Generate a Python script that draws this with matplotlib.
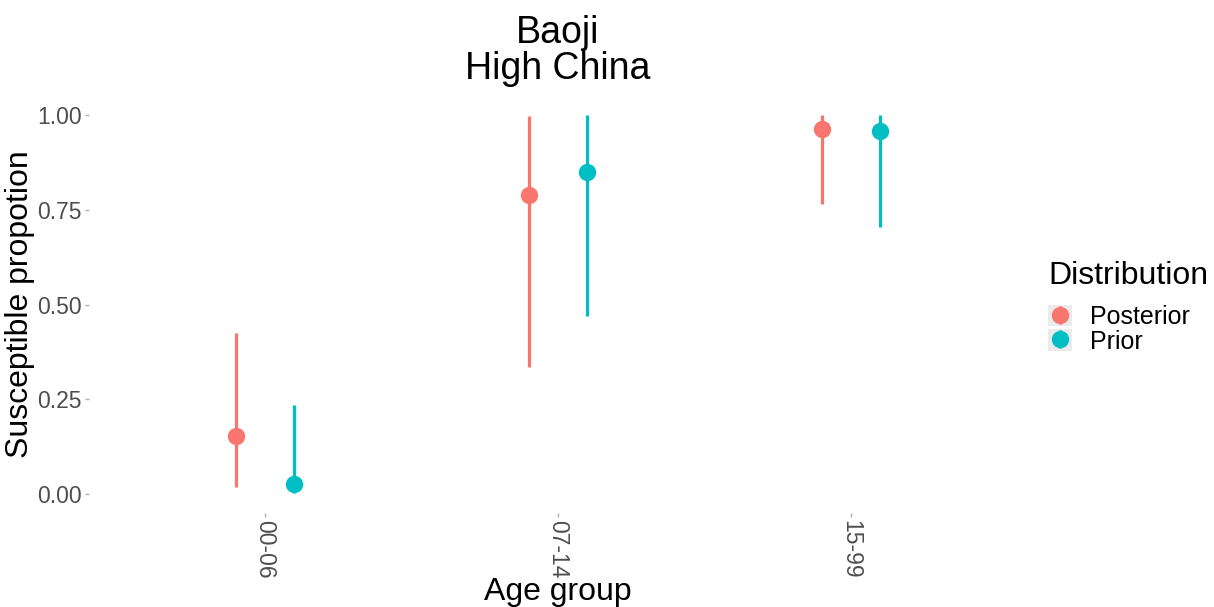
import matplotlib
matplotlib.use("Agg")
import matplotlib.pyplot as plt
import numpy as np
from matplotlib.lines import Line2D
from matplotlib.patches import Rectangle
from matplotlib.legend_handler import HandlerTuple

plt.rcParams['font.family'] = ['Liberation Sans', 'DejaVu Sans']

age_groups = ["00-06", "07-14", "15-99"]
distributions = ["Posterior", "Prior"]
colors = {"Posterior": "#F8766D", "Prior": "#00BFC4"}

post_mid = [0.153, 0.790, 0.963]
post_low = [0.019, 0.335, 0.765]
post_high = [0.426, 0.998, 0.999]

prior_mid = [0.026, 0.850, 0.958]
prior_low = [0.003, 0.470, 0.705]
prior_high = [0.235, 0.999, 0.999]

series = {
    "Posterior": (post_mid, post_low, post_high),
    "Prior": (prior_mid, prior_low, prior_high),
}

fig = plt.figure(figsize=(12.14, 6.07), dpi=100)
ax = fig.add_axes([89/1214, 1 - 513/607, (1027-89)/1214, (513-96)/607])

x = np.arange(len(age_groups))
offsets = {"Posterior": -0.1, "Prior": 0.1}
for d in distributions:
    mid, lo, hi = series[d]
    xs = x + offsets[d]
    ax.vlines(xs, lo, hi, color=colors[d], lw=2.3, zorder=2)
    ax.plot(xs, mid, 'o', color=colors[d], ms=11.5, zorder=3)

ax.set_xlim(-0.6, len(age_groups) - 1 + 0.6)
ax.set_ylim(-0.05, 1.05)
ax.set_yticks([0, 0.25, 0.5, 0.75, 1.0])
ax.set_yticklabels(["0.00", "0.25", "0.50", "0.75", "1.00"])
ax.set_xticks(x)
ax.set_xticklabels(age_groups, rotation=270)
for s in ax.spines.values():
    s.set_visible(False)
ax.tick_params(axis='both', colors='#B0B0B0', length=3, width=1, labelsize=16.5, pad=2)
for lab in ax.get_xticklabels() + ax.get_yticklabels():
    lab.set_color('#4D4D4D')
ax.set_xlabel("Age group", fontsize=23, labelpad=-1)
ax.set_ylabel("Susceptible propotion", fontsize=23, labelpad=1.5)
ax.set_title("Baoji\nHigh China", fontsize=27, linespacing=1.0, pad=12)

handles = []
for d in distributions:
    bg = Rectangle((0, 0), 1, 1, facecolor='#EBEBEB', edgecolor='none')
    vl = Line2D([], [], marker='|', color=colors[d], ms=13, mew=2.3, linestyle='none')
    pt = Line2D([], [], marker='o', color=colors[d], ms=11.5, linestyle='none')
    handles.append((bg, vl, pt))
leg = fig.legend(handles, distributions, handler_map={tuple: HandlerTuple(ndivide=1, pad=0)},
                 loc='upper left', bbox_to_anchor=(1048/1214, 1 - 261/607), frameon=False,
                 title="Distribution", fontsize=18, title_fontsize=23, handlelength=0.95,
                 handleheight=0.95, handletextpad=0.75, labelspacing=0.0, borderaxespad=0,
                 borderpad=0)
leg._legend_box.align = "left"
leg._legend_box.sep = 10

fig.savefig("out.png", dpi=100)
